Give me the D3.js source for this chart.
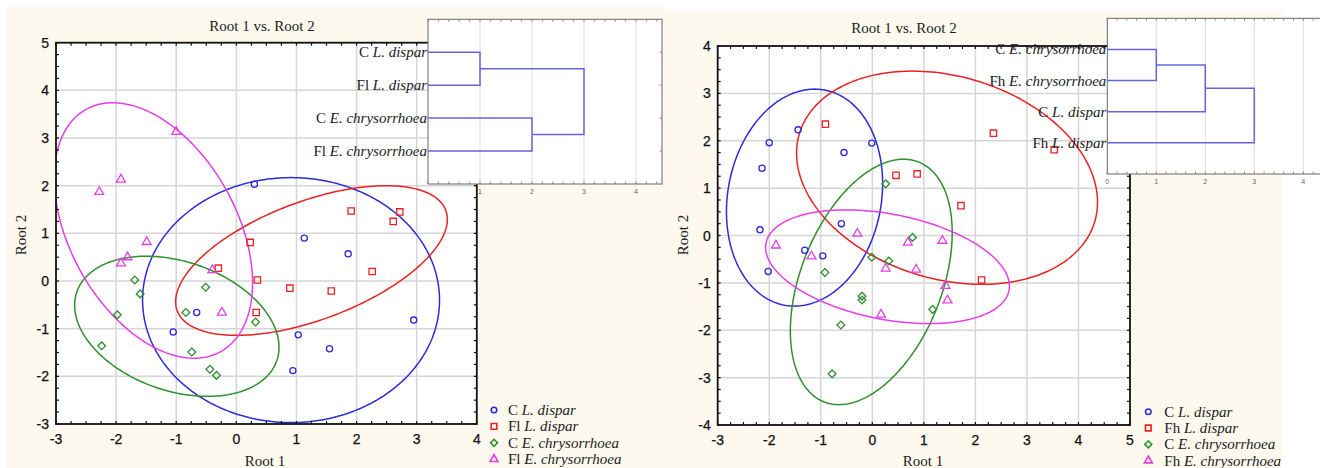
<!DOCTYPE html>
<html><head><meta charset="utf-8">
<script src="https://cdn.jsdelivr.net/npm/d3@7"></script>
<style>body{margin:0;background:#fff}svg{display:block}</style>
</head><body><svg id="c" width="1320" height="468"></svg>
<script>
// ---------------- DATA ----------------
const leftXTicks = [-3,-2,-1,0,1,2,3,4];
const leftYTicks = [-3,-2,-1,0,1,2,3,4,5];
const rightXTicks = [-3,-2,-1,0,1,2,3,4,5];
const rightYTicks = [-4,-3,-2,-1,0,1,2,3,4];
const dendroTicks = [0,1,2,3,4];

const leftPrefixes = ["C","Fl","C","Fl"];
const rightPrefixes = ["C","Fh","C","Fh"];
const legendSpecies = ["L. dispar","L. dispar","E. chrysorrhoea","E. chrysorrhoea"];

// left panel points (Root 1, Root 2)
const leftCLdispar = [[0.30,2.03],[1.13,0.90],[1.86,0.57],[2.95,-0.82],[1.03,-1.13],[1.55,-1.42],[0.94,-1.88],[-0.66,-0.66],[-1.05,-1.07]];
const leftFlLdispar = [[1.91,1.47],[2.72,1.45],[2.61,1.25],[0.23,0.81],[-0.30,0.27],[0.35,0.02],[0.89,-0.15],[1.58,-0.21],[2.26,0.20],[0.33,-0.66]];
const leftCEchrys = [[-1.69,0.02],[-1.60,-0.27],[-1.98,-0.71],[-2.24,-1.36],[-0.51,-0.13],[-0.84,-0.66],[0.32,-0.86],[-0.74,-1.49],[-0.44,-1.85],[-0.33,-1.98]];
const leftFlEchrys = [[-1.00,3.13],[-1.92,2.13],[-2.28,1.87],[-1.49,0.82],[-1.81,0.50],[-1.92,0.37],[-0.40,0.23],[-0.24,-0.66]];

// right panel points
const rightCLdispar = [[-1.44,2.23],[-2.00,1.96],[-2.14,1.42],[-0.55,1.75],[-0.01,1.95],[-2.18,0.12],[-2.02,-0.76],[-1.31,-0.31],[-0.96,-0.43],[-0.60,0.25]];
const rightFhLdispar = [[-0.91,2.35],[0.46,1.27],[0.87,1.30],[1.72,0.63],[2.12,-0.94],[3.53,1.81],[2.35,2.16]];
const rightCEchrys = [[0.26,1.09],[-0.92,-0.78],[-0.20,-1.28],[-0.20,-1.36],[-0.61,-1.89],[-0.78,-2.92],[-0.01,-0.46],[0.32,-0.54],[0.78,-0.04],[1.17,-1.56]];
const rightFhEchrys = [[-1.87,-0.21],[-1.18,-0.44],[-0.29,0.04],[0.69,-0.15],[0.26,-0.70],[0.85,-0.72],[0.17,-1.67],[1.36,-0.11],[1.42,-1.06],[1.46,-1.37]];

// confidence ellipses: [centre x, centre y, half-width, half-height, correlation]
const leftEllipses = [[0.91,-0.40,2.47,2.57,0.0],[1.25,0.43,2.26,1.57,0.55],[-0.99,-0.95,1.70,1.47,-0.30],[-1.38,1.06,1.65,2.68,-0.41]];
const rightEllipses = [[-1.315,0.80,1.515,2.29,0.13],[1.45,1.22,2.92,2.25,-0.23],[-0.02,-0.98,1.57,2.59,0.40],[0.295,-0.66,2.365,1.20,-0.34]];

// dendrograms
const leftDendroPrefix = ["C","Fl","C","Fl"];
const leftDendroSpecies = ["L. dispar","L. dispar","E. chrysorrhoea","E. chrysorrhoea"];
const leftMerges = [[0,1,1],[2,3,2],[4,5,3]];
const rightDendroPrefix = ["C","Fh","C","Fh"];
const rightDendroSpecies = ["E. chrysorrhoea","E. chrysorrhoea","L. dispar","L. dispar"];
const rightMerges = [[0,1,1],[4,2,2],[5,3,3]];

// ---------------- STYLE ----------------
const colors = ["#2b2bdc","#e82222","#2f8f2f","#e63ee6"];
const symbols = [d3.symbolCircle, d3.symbolSquare, d3.symbolSquare, d3.symbolTriangle];
const symSizes = [30, 40, 30, 34];
const symRot = [0,0,45,0];
const SERIF = "'Liberation Serif','Times New Roman',serif";
const SANS = "'Liberation Sans',Arial,sans-serif";

const svg = d3.select("#c");
svg.append("rect").attr("x",7).attr("y",7).attr("width",662).attr("height",461).attr("fill","#fdf9ef");
svg.append("rect").attr("x",668).attr("y",12).attr("width",614).attr("height",456).attr("fill","#fdf9ef");

const panels = [
  {id:"L", plot:{x0:56,x1:476.8,y0:42.7,y1:424}, xd:[-3,4], yd:[-3,5], xt:leftXTicks, yt:leftYTicks,
   series:[leftCLdispar,leftFlLdispar,leftCEchrys,leftFlEchrys], ell:leftEllipses,
   title:[262,31], xl:[265,466], yl:[21,235],
   inset:{x:428,y:19.3,w:234,h:164.7,max:4.5,zero:false}, dp:leftDendroPrefix, ds:leftDendroSpecies, dm:leftMerges,
   legend:{sx:494,tx:508,y0:410,dy:16.4}, prefixes:leftPrefixes},
  {id:"R", plot:{x0:717.7,x1:1130,y0:46,y1:425}, xd:[-3,5], yd:[-4,4], xt:rightXTicks, yt:rightYTicks,
   series:[rightCLdispar,rightFhLdispar,rightCEchrys,rightFhEchrys], ell:rightEllipses,
   title:[904,33], xl:[923,466], yl:[683,235],
   inset:{x:1107.3,y:18.3,w:220.5,h:155.7,max:4.5,zero:true}, dp:rightDendroPrefix, ds:rightDendroSpecies, dm:rightMerges,
   legend:{sx:1148.3,tx:1164.3,y0:411.7,dy:16.3}, prefixes:rightPrefixes}
];

function labelText(sel, prefix, species){
  sel.append("tspan").text(prefix + " ");
  sel.append("tspan").attr("font-style","italic").text(species);
}

panels.forEach(p => {
  const P = p.plot;
  const x = d3.scaleLinear().domain(p.xd).range([P.x0,P.x1]);
  const y = d3.scaleLinear().domain(p.yd).range([P.y1,P.y0]);
  const g = svg.append("g");
  g.append("rect").attr("x",P.x0).attr("y",P.y0).attr("width",P.x1-P.x0).attr("height",P.y1-P.y0).attr("fill","#fff");
  // grid
  g.selectAll(".gx").data(p.xt.slice(1,-1)).enter().append("line")
    .attr("x1",d=>x(d)).attr("x2",d=>x(d)).attr("y1",P.y0).attr("y2",P.y1)
    .attr("stroke","#d6d6d6").attr("stroke-width",1.5);
  g.selectAll(".gy").data(p.yt.slice(1,-1)).enter().append("line")
    .attr("y1",d=>y(d)).attr("y2",d=>y(d)).attr("x1",P.x0).attr("x2",P.x1)
    .attr("stroke","#d6d6d6").attr("stroke-width",1.5);
  // clip
  const cid = "clip"+p.id;
  svg.append("clipPath").attr("id",cid).append("rect")
    .attr("x",P.x0).attr("y",P.y0).attr("width",P.x1-P.x0).attr("height",P.y1-P.y0);
  // ellipses
  const line = d3.line().x(d=>x(d[0])).y(d=>y(d[1])).curve(d3.curveLinearClosed);
  const eg = g.append("g").attr("clip-path",`url(#${cid})`);
  p.ell.forEach((e,i)=>{
    const [cx,cy,rx,ry,rho] = e;
    const phi = Math.acos(rho);
    const pts = d3.range(0,360,1.5).map(a=>{const t=a*Math.PI/180; return [cx+rx*Math.cos(t), cy+ry*Math.cos(t-phi)];});
    eg.append("path").attr("d",line(pts)).attr("fill","none").attr("stroke",colors[i]).attr("stroke-width",1.5);
  });
  // points
  p.series.forEach((s,i)=>{
    const sym = d3.symbol().type(symbols[i]).size(symSizes[i]);
    eg.selectAll(null).data(s).enter().append("path")
      .attr("d",sym).attr("transform",d=>`translate(${x(d[0])},${y(d[1])}) rotate(${symRot[i]})`)
      .attr("fill","none").attr("stroke",colors[i]).attr("stroke-width",1.3);
  });
  // frame + ticks
  g.append("rect").attr("x",P.x0).attr("y",P.y0).attr("width",P.x1-P.x0).attr("height",P.y1-P.y0)
    .attr("fill","none").attr("stroke","#111").attr("stroke-width",1.8);
  const mx = d3.range(p.xd[0], p.xd[1]+0.001, 0.25), my = d3.range(p.yd[0], p.yd[1]+0.001, 0.25);
  const tk = g.append("g").attr("stroke","#111").attr("stroke-width",1.2);
  mx.forEach(v=>{ tk.append("line").attr("x1",x(v)).attr("x2",x(v)).attr("y1",P.y1).attr("y2",P.y1-3);
                  tk.append("line").attr("x1",x(v)).attr("x2",x(v)).attr("y1",P.y0).attr("y2",P.y0+3); });
  my.forEach(v=>{ tk.append("line").attr("y1",y(v)).attr("y2",y(v)).attr("x1",P.x0).attr("x2",P.x0+3);
                  tk.append("line").attr("y1",y(v)).attr("y2",y(v)).attr("x1",P.x1).attr("x2",P.x1-3); });
  // tick labels
  g.selectAll(".tx").data(p.xt).enter().append("text").attr("x",d=>x(d)).attr("y",P.y1+20)
    .attr("text-anchor","middle").attr("font-family",SANS).attr("font-size",14).attr("fill","#111")
    .attr("stroke","#111").attr("stroke-width",0.25).text(d=>d);
  g.selectAll(".ty").data(p.yt).enter().append("text").attr("x",P.x0-7).attr("y",d=>y(d)+5)
    .attr("text-anchor","end").attr("font-family",SANS).attr("font-size",14).attr("fill","#111")
    .attr("stroke","#111").attr("stroke-width",0.25).text(d=>d);
  // titles
  g.append("text").attr("x",p.title[0]).attr("y",p.title[1]).attr("text-anchor","middle")
    .attr("font-family",SERIF).attr("font-size",15).attr("fill","#222").text("Root 1 vs. Root 2");
  g.append("text").attr("x",p.xl[0]).attr("y",p.xl[1]).attr("text-anchor","middle")
    .attr("font-family",SERIF).attr("font-size",15).attr("fill","#222").text("Root 1");
  g.append("text").attr("transform",`translate(${p.yl[0]},${p.yl[1]}) rotate(-90)`).attr("dy",5).attr("text-anchor","middle")
    .attr("font-family",SERIF).attr("font-size",15).attr("fill","#222").text("Root 2");
  // legend
  const L = p.legend;
  p.prefixes.forEach((pre,i)=>{
    const yy = L.y0 + i*L.dy;
    const sym = d3.symbol().type(symbols[i]).size(symSizes[i]*0.8);
    g.append("path").attr("d",sym).attr("transform",`translate(${L.sx},${yy}) rotate(${symRot[i]})`)
      .attr("fill","none").attr("stroke",colors[i]).attr("stroke-width",1.6);
    const t = g.append("text").attr("x",L.tx).attr("y",yy+5).attr("font-family",SERIF).attr("font-size",15).attr("fill","#222");
    labelText(t, pre, legendSpecies[i]);
  });
  // dendrogram inset
  const I = p.inset;
  const dx = d3.scaleLinear().domain([0,I.max]).range([I.x, I.x+I.w]);
  const dy = i => I.y + (i+1)*I.h/5;
  const ig = svg.append("g");
  ig.append("rect").attr("x",I.x).attr("y",I.y).attr("width",I.w).attr("height",I.h).attr("fill","#fff");
  ig.selectAll(null).data(dendroTicks.slice(1)).enter().append("line")
    .attr("x1",d=>dx(d)).attr("x2",d=>dx(d)).attr("y1",I.y).attr("y2",I.y+I.h).attr("stroke","#dcdcdc").attr("stroke-width",1);
  ig.append("rect").attr("x",I.x).attr("y",I.y).attr("width",I.w).attr("height",I.h)
    .attr("fill","none").attr("stroke","#666").attr("stroke-width",1);
  const itk = ig.append("g").attr("stroke","#777").attr("stroke-width",0.8);
  d3.range(0, I.max+0.001, 0.2).forEach(v=>{
    itk.append("line").attr("x1",dx(v)).attr("x2",dx(v)).attr("y1",I.y).attr("y2",I.y+2.5);
    itk.append("line").attr("x1",dx(v)).attr("x2",dx(v)).attr("y1",I.y+I.h).attr("y2",I.y+I.h-2.5);
  });
  d3.range(4).forEach(i=>{
    itk.append("line").attr("x1",I.x+I.w).attr("x2",I.x+I.w-2.5).attr("y1",dy(i)).attr("y2",dy(i));
  });
  ig.selectAll(null).data(dendroTicks.filter(d=>I.zero||d>0)).enter().append("text")
    .attr("x",d=>dx(d)).attr("y",I.y+I.h+10).attr("text-anchor","middle")
    .attr("font-family",SANS).attr("font-size",7).attr("fill","#666").text(d=>d);
  // nodes
  const nodes = p.dp.map((_,i)=>({h:0,y:dy(i)}));
  p.dm.forEach(([a,b,h])=>{
    const A=nodes[a], B=nodes[b];
    ig.append("path").attr("d",`M${dx(A.h)},${A.y}H${dx(h)}V${B.y}H${dx(B.h)}`)
      .attr("fill","none").attr("stroke","#6464e2").attr("stroke-width",1.5);
    nodes.push({h:h,y:(A.y+B.y)/2});
  });
  p.dp.forEach((pre,i)=>{
    const t = ig.append("text").attr("x",I.x-1).attr("y",dy(i)+5).attr("text-anchor","end")
      .attr("font-family",SERIF).attr("font-size",15).attr("fill","#222");
    labelText(t, pre, p.ds[i]);
  });
});
</script></body></html>
